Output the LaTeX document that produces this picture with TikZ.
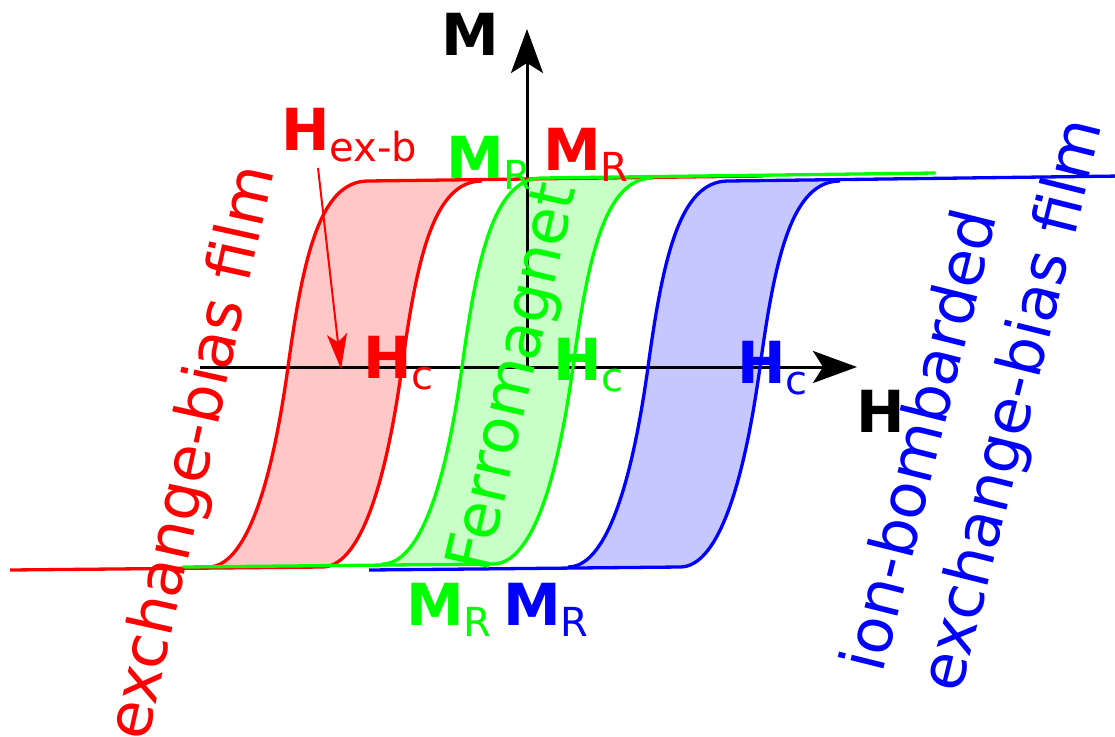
\documentclass[tikz,border=0pt]{standalone}
\usepackage{fontspec}
\setmainfont{DejaVu Sans}
\usetikzlibrary{arrows.meta}
\definecolor{FilmRed}{HTML}{FF0000}
\definecolor{FerroGreen}{HTML}{00FF00}
\definecolor{BombBlue}{HTML}{0000FF}
\newcommand{\sublbl}[2]{{\bfseries #1}\raisebox{-0.2em}{\fontsize{40}{40}\selectfont\mdseries #2}}

\begin{document}
\begin{tikzpicture}[x=1pt, y=-1pt,
  axis/.style={line width=3pt, black, -{Stealth[length=44pt, width=32pt, inset=10pt]}},
  loopline/.style={line width=3.3pt},
  lbl/.style={inner sep=0pt, anchor=base west, font=\fontsize{58}{58}\selectfont},
  tag/.style={inner sep=0pt, font=\fontsize{62}{80}\selectfont},
  exbarrow/.style={line width=2pt, FilmRed, -{Stealth[length=35pt, width=20pt, inset=8pt]}}
]
  \useasboundingbox (0,0) rectangle (1115,736);

  % shaded loops: left crossing / right crossing / shift / colour
  \foreach \xl/\xr/\dy/\col in {288/402/0/FilmRed, 462/573/-3/FerroGreen, 648/760/0/BombBlue} {
    \fill[\col!22!white] (\xl-80,567+\dy) .. controls (\xl-45,567+\dy) and (\xl-18,497) .. (\xl,367)
      .. controls (\xl+15,257) and (\xl+32,181+\dy) .. (\xl+80,181+\dy)
      -- (\xr+80,181+\dy) .. controls (\xr+32,181+\dy) and (\xr+15,257) .. (\xr,367)
      .. controls (\xr-18,497) and (\xr-45,567+\dy) .. (\xr-80,567+\dy) -- cycle;
  }

  % axes
  \coordinate (origin) at (527,367);
  \coordinate (hstart) at (200,367);
  \coordinate (hend) at (857,367);
  \coordinate (vend) at (527,29);
  \draw[axis] (hstart) -- (hend);
  \draw[axis] (origin) -- (vend);

  % loop outlines
  \foreach \xl/\xr/\dy/\col in {288/402/0/FilmRed, 462/573/-3/FerroGreen, 648/760/0/BombBlue} {
    \draw[loopline, \col] ({(\xl+\xr)/2-335},570+\dy) -- (\xr-80,567+\dy);
    \draw[loopline, \col] (\xl-80,567+\dy) .. controls (\xl-45,567+\dy) and (\xl-18,497) .. (\xl,367)
      .. controls (\xl+15,257) and (\xl+32,181+\dy) .. (\xl+80,181+\dy)
      -- ({(\xl+\xr)/2+418},176+\dy);
    \draw[loopline, \col] (\xr+80,181+\dy) .. controls (\xr+32,181+\dy) and (\xr+15,257) .. (\xr,367)
      .. controls (\xr-18,497) and (\xr-45,567+\dy) .. (\xr-80,567+\dy);
  }

  % labels
  \node[lbl] (mlabel) at (441,55) {\bfseries M};
  \node[lbl] (hlabel) at (856,432) {\bfseries H};
  \node[lbl, FilmRed] (hexb) at (281,150) {\sublbl{H}{ex-b}};
  \node[lbl, FilmRed] (hcred) at (363,378) {\sublbl{H}{c}};
  \node[lbl, FerroGreen] (hcgreen) at (553,380) {\sublbl{H}{c}};
  \node[lbl, BombBlue] (hcblue) at (737,383) {\sublbl{H}{c}};
  \node[lbl, FerroGreen] (mrgreentop) at (446,178) {\sublbl{M}{R}};
  \node[lbl, FilmRed] (mrredtop) at (543,170) {\sublbl{M}{R}};
  \node[lbl, FerroGreen] (mrgreenbot) at (406,625) {\sublbl{M}{R}};
  \node[lbl, BombBlue] (mrbluebot) at (503,625) {\sublbl{M}{R}};

  % exchange bias shift
  \coordinate (exbtail) at (318,168);
  \coordinate (exbhead) at (341,369);
  \draw[exbarrow] (exbtail) -- (exbhead);

  % sample names
  \node[tag, FilmRed, rotate=77.5] (ebfilm) at (194,453) {exchange-bias film};
  \node[tag, FerroGreen, rotate=77] (ferro) at (516,378) {Ferromagnet};
  \node[tag, BombBlue, rotate=76, align=left] (ibfilm) at (976,396) {ion-bombarded\\exchange-bias film};
\end{tikzpicture}
\end{document}
